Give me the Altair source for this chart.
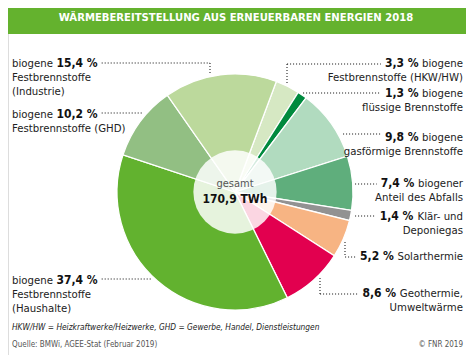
import math
import altair as alt
import pandas as pd

# ---------------- data ----------------
categories = [
    "biogene Festbrennstoffe (HKW/HW)",
    "biogene flüssige Brennstoffe",
    "biogene gasförmige Brennstoffe",
    "biogener Anteil des Abfalls",
    "Klär- und Deponiegas",
    "Solarthermie",
    "Geothermie, Umweltwärme",
    "biogene Festbrennstoffe (Haushalte)",
    "biogene Festbrennstoffe (GHD)",
    "biogene Festbrennstoffe (Industrie)",
]
shares = [3.3, 1.3, 9.8, 7.4, 1.4, 5.2, 8.6, 37.4, 10.2, 15.4]
colors = ["#d6e8c3", "#008a3e", "#b1dbbf", "#5fae7c", "#929292",
          "#f7b483", "#e2004f", "#62b22f", "#92bf83", "#bcd99c"]
label_first_word = ["biogene", "biogene", "biogene", "biogener", "Klär- und",
                    "Solarthermie", "Geothermie,", "biogene", "biogene", "biogene"]
label_more_lines = [
    ["Festbrennstoffe (HKW/HW)"],
    ["flüssige Brennstoffe"],
    ["gasförmige Brennstoffe"],
    ["Anteil des Abfalls"],
    ["Deponiegas"],
    [],
    ["Umweltwärme"],
    ["Festbrennstoffe", "(Haushalte)"],
    ["Festbrennstoffe (GHD)"],
    ["Festbrennstoffe", "(Industrie)"],
]
label_side = ["R", "R", "R", "R", "R", "R", "R", "L", "L", "L"]
title_text = "WÄRMEBEREITSTELLUNG AUS ERNEUERBAREN ENERGIEN 2018"
total_top = "gesamt"
total_text = "170,9 TWh"
footnote = "HKW/HW = Heizkraftwerke/Heizwerke, GHD = Gewerbe, Handel, Dienstleistungen"
source = "Quelle: BMWi, AGEE-Stat (Februar 2019)"
copyright_text = "© FNR 2019"

# ---------------- layout (reference pixel coordinates) ----------------
W, H = 458, 347
CX, CY, R_OUT, R_IN = 235, 192, 118, 47
START = math.radians(20.5)
label_y = [63, 93, 137, 183, 216, 256, 293, 280, 114, 63]
RIGHT_X = 463
LEFT_X = 12
LINE_H = 14.5
REG, BOLD = 11.3, 12
# leader lines: (x, y, x2, y2); None = ends/starts at the label text
leaders_fixed = [
    (287, 64, 287, 85),
    (345, 242, 345, 257),
    (320, 278, 320, 294),
    (210, 63, 210, 73),
]
leaders_to_label = {  # category index -> (pie-side x, y)
    0: (287, 64), 1: (303, 93), 2: (343, 134), 3: (355, 184), 4: (355, 216),
    5: (345, 257), 6: (320, 294),
    9: (210, 63), 8: (142, 113), 7: (151, 279),
}

FONT = "DejaVu Sans Condensed"
xs = alt.Scale(domain=[8, 8 + W], range=[0, W])
ys = alt.Scale(domain=[8, 8 + H], range=[0, H])

# approximate DejaVu Sans advance widths (units per em 2048), condensed ~0.9
_REGW = {" ": 651, "a": 1255, "b": 1300, "c": 1126, "d": 1300, "e": 1260, "f": 721, "g": 1300,
         "h": 1298, "i": 569, "k": 1186, "l": 569, "m": 1995, "n": 1298, "o": 1253, "r": 842,
         "s": 1067, "t": 803, "u": 1298, "ä": 1255, ",": 651, "-": 739, "S": 1300, "K": 1343,
         "G": 1577}
_BOLDW = {" ": 713, ",": 780, "%": 2052}


def est_width(text, size, bold=False):
    tot = 0
    for ch in text:
        if bold:
            tot += _BOLDW.get(ch, 1425)
        else:
            tot += _REGW.get(ch, 1250)
    return tot / 2048 * 0.9 * size


def pct(v):
    return f"{v:.1f}".replace(".", ",") + " %"


pie_df = pd.DataFrame({"cat": categories, "share": shares, "order": list(range(len(shares)))})

pie = alt.Chart(pie_df).mark_arc(outerRadius=R_OUT, stroke="white", strokeWidth=1.3).encode(
    theta=alt.Theta("share:Q", stack=True,
                    scale=alt.Scale(type="linear", domain=[0, 100], range=[START, START + 2 * math.pi])),
    order=alt.Order("order:Q"),
    color=alt.Color("cat:N", scale=alt.Scale(domain=categories, range=colors), legend=None),
    x=alt.value(CX - 8), y=alt.value(CY - 8),
)

inner = alt.Chart(pd.DataFrame({"a": [0]})).mark_circle(
    size=math.pi * R_IN ** 2, color="white", opacity=0.84).encode(
    x=alt.value(CX - 8), y=alt.value(CY - 8))

rows = []
leaders = list(leaders_fixed)
for i, v in enumerate(shares):
    y0 = label_y[i]
    p = pct(v)
    if label_side[i] == "R":
        pr = RIGHT_X - est_width(label_first_word[i], REG) - 3.5
        rows.append(dict(t=p, x=pr, y=y0, al="right", w="bold", s=BOLD, c="#111111"))
        rows.append(dict(t=label_first_word[i], x=RIGHT_X, y=y0 + 0.5, al="right", w="normal", s=REG, c="#222222"))
        for k, ln in enumerate(label_more_lines[i]):
            rows.append(dict(t=ln, x=RIGHT_X, y=y0 + LINE_H * (k + 1), al="right", w="normal", s=REG, c="#222222"))
        px, py = leaders_to_label[i]
        leaders.append((px, py, pr - est_width(p, BOLD, True) - 4, py))
    else:
        pl = LEFT_X + est_width(label_first_word[i], REG) + 3.5
        rows.append(dict(t=label_first_word[i], x=LEFT_X, y=y0 + 0.5, al="left", w="normal", s=REG, c="#222222"))
        rows.append(dict(t=p, x=pl, y=y0, al="left", w="bold", s=BOLD, c="#111111"))
        for k, ln in enumerate(label_more_lines[i]):
            rows.append(dict(t=ln, x=LEFT_X, y=y0 + LINE_H * (k + 1), al="left", w="normal", s=REG, c="#222222"))
        px, py = leaders_to_label[i]
        leaders.append((pl + est_width(p, BOLD, True) + 4, py, px, py))

rows.append(dict(t=total_top, x=CX, y=184, al="center", w="normal", s=11, c="#555555"))
rows.append(dict(t=total_text, x=CX, y=199, al="center", w="bold", s=12, c="#111111"))
rows.append(dict(t=source, x=LEFT_X, y=345, al="left", w="normal", s=8, c="#555555"))
rows.append(dict(t=copyright_text, x=RIGHT_X, y=345, al="right", w="normal", s=8, c="#555555"))
text_df = pd.DataFrame(rows)


def text_layer(align, weight, size, color):
    sub = text_df[(text_df.al == align) & (text_df.w == weight) & (text_df.s == size) & (text_df.c == color)]
    return alt.Chart(sub).mark_text(align=align, baseline="middle", font=FONT, fontWeight=weight,
                                    fontSize=size, color=color).encode(
        x=alt.X("x:Q", scale=xs, axis=None), y=alt.Y("y:Q", scale=ys, axis=None), text="t:N")


combos = text_df[["al", "w", "s", "c"]].drop_duplicates().values.tolist()
texts = [text_layer(a, w, s, c) for a, w, s, c in combos]

foot = alt.Chart(pd.DataFrame({"t": [footnote], "x": [LEFT_X], "y": [328]})).mark_text(
    align="left", baseline="middle", font=FONT, fontStyle="italic", fontSize=8.3, color="#222222").encode(
    x=alt.X("x:Q", scale=xs, axis=None), y=alt.Y("y:Q", scale=ys, axis=None), text="t:N")

lead_df = pd.DataFrame(leaders, columns=["x", "y", "x2", "y2"])
lead = alt.Chart(lead_df).mark_rule(color="#222222", strokeWidth=1.1, strokeDash=[1.1, 1.9]).encode(
    x=alt.X("x:Q", scale=xs, axis=None), x2="x2:Q",
    y=alt.Y("y:Q", scale=ys, axis=None), y2="y2:Q")

bar = alt.Chart(pd.DataFrame({"a": [0]})).mark_rect(color="#64b22e").encode(
    x=alt.value(0), x2=alt.value(W), y=alt.value(0), y2=alt.value(34 - 8))
title = alt.Chart(pd.DataFrame({"t": [title_text]})).mark_text(
    align="center", baseline="middle", font=FONT, fontWeight="bold", fontSize=11.2, color="white").encode(
    x=alt.value(236 - 8), y=alt.value(18 - 8), text="t:N")

chart = alt.layer(bar, title, lead, pie, inner, *texts, foot).properties(
    width=W, height=H, padding=0, autosize=alt.AutoSizeParams(type="none")
).configure_view(stroke=None).configure(background="white")

chart.save("out.html", embed_options={"renderer": "svg", "actions": False})
